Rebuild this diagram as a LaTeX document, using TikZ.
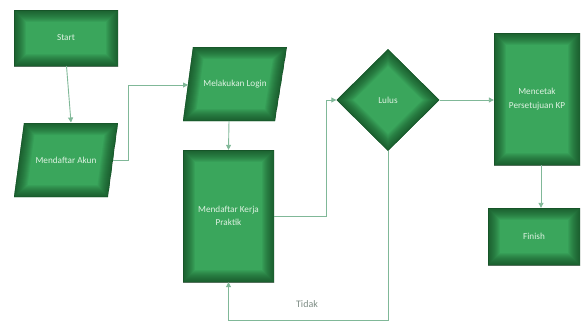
\documentclass[tikz,border=0pt]{standalone}
\usepackage{fontspec}
\setmainfont{Carlito}
\usetikzlibrary{shapes.geometric,arrows.meta}
\definecolor{gin}{RGB}{58,166,92}
\definecolor{gout}{RGB}{12,54,24}
\definecolor{conn}{RGB}{128,184,152}
\definecolor{lbl}{RGB}{125,140,132}
\definecolor{txt}{RGB}{222,242,226}
\newcommand{\vigrect}[2]{%
  \foreach \w in {24,22,...,2}
    \draw[gout, line width=\w pt, opacity=0.07] #1 rectangle #2;
  \draw[gout, line width=1pt, opacity=0.3] #1 rectangle #2;}
\newcommand{\vigpoly}[1]{%
  \foreach \w in {24,22,...,2}
    \draw[gout, line width=\w pt, opacity=0.07, line join=miter] #1;
  \draw[gout, line width=1pt, opacity=0.3, line join=miter] #1;}
\tikzset{
  boxtext/.style={text=txt, font=\fontsize{9.2}{13.5}\selectfont, align=center, inner sep=0pt},
  box/.style={rectangle, boxtext, fill=gin,
    path picture={\vigrect{(path picture bounding box.south west)}{(path picture bounding box.north east)}}},
  dec/.style={diamond, boxtext, fill=gin, aspect=1, minimum width=103pt, minimum height=102pt,
    path picture={\vigpoly{(path picture bounding box.north) -- (path picture bounding box.east) -- (path picture bounding box.south) -- (path picture bounding box.west) -- cycle}}},
  conline/.style={draw=conn, line width=0.9pt},
  conarrow/.style={conline, -{Triangle[width=5pt,length=5pt]}}
}
\begin{document}
\begin{tikzpicture}[x=1pt,y=-1pt]
\useasboundingbox (0,0) rectangle (582,322);
% corners of the parallelograms
\coordinate (akTL) at (24,123); \coordinate (akTR) at (118,123);
\coordinate (akBR) at (108,197); \coordinate (akBL) at (14,197);
\coordinate (loTL) at (193,47); \coordinate (loTR) at (287,47);
\coordinate (loBR) at (275,121); \coordinate (loBL) at (183,121);
\begin{scope}
  \clip (akTL) -- (akTR) -- (akBR) -- (akBL) -- cycle;
  \fill[gin] (akTL) -- (akTR) -- (akBR) -- (akBL) -- cycle;
  \vigpoly{(akTL) -- (akTR) -- (akBR) -- (akBL) -- cycle}
\end{scope}
\begin{scope}
  \clip (loTL) -- (loTR) -- (loBR) -- (loBL) -- cycle;
  \fill[gin] (loTL) -- (loTR) -- (loBR) -- (loBL) -- cycle;
  \vigpoly{(loTL) -- (loTR) -- (loBR) -- (loBL) -- cycle}
\end{scope}
\coordinate (akE) at (113,160);
\coordinate (loW) at (188,85);
\coordinate (loS) at (229,121);

\node[box, minimum width=104pt, minimum height=56pt] (start) at (66,38) {Start};
\node[boxtext] (akun) at (66,160) {Mendaftar Akun};
\node[boxtext] (login) at (235,84) {Melakukan Login};
\node[box, minimum width=91pt, minimum height=132pt] (kp) at (228.5,216) {Mendaftar Kerja\\Praktik};
\node[dec] (lulus) at (388,100) {Lulus};
\node[box, minimum width=86pt, minimum height=132pt] (cetak) at (537,99) {Mencetak\\Persetujuan KP};
\node[box, minimum width=92pt, minimum height=57pt] (finish) at (534,236.5) {Finish};
\node[text=lbl, font=\fontsize{10}{12}\selectfont] (tidak) at (307,304) {Tidak};
\coordinate (a1) at (128,160);
\coordinate (a2) at (128,85);
\coordinate (k1) at (326,216);
\coordinate (k2) at (326,100);
\coordinate (b1) at (388,320.5);
\coordinate (b2) at (228.5,320.5);
\coordinate (s1) at (66.5,66);
\coordinate (s2) at (71,122.5);

\draw[conarrow] (s1) -- (s2);
\draw[conline] (akE) -- (a1) -- (a2);
\draw[conarrow] (a2) -- (loW);
\draw[conarrow] (loS) -- (kp.north);
\draw[conline] (kp.east) -- (k1) -- (k2);
\draw[conarrow] (k2) -- (lulus.west);
\draw[conarrow] (lulus.east) -- (cetak.west |- lulus.east);
\draw[conarrow] (cetak.south -| 541,0) -- (finish.north -| 541,0);
\draw[conline] (lulus.south) -- (b1) -- (b2);
\draw[conarrow] (b2) -- (kp.south);
\end{tikzpicture}
\end{document}
